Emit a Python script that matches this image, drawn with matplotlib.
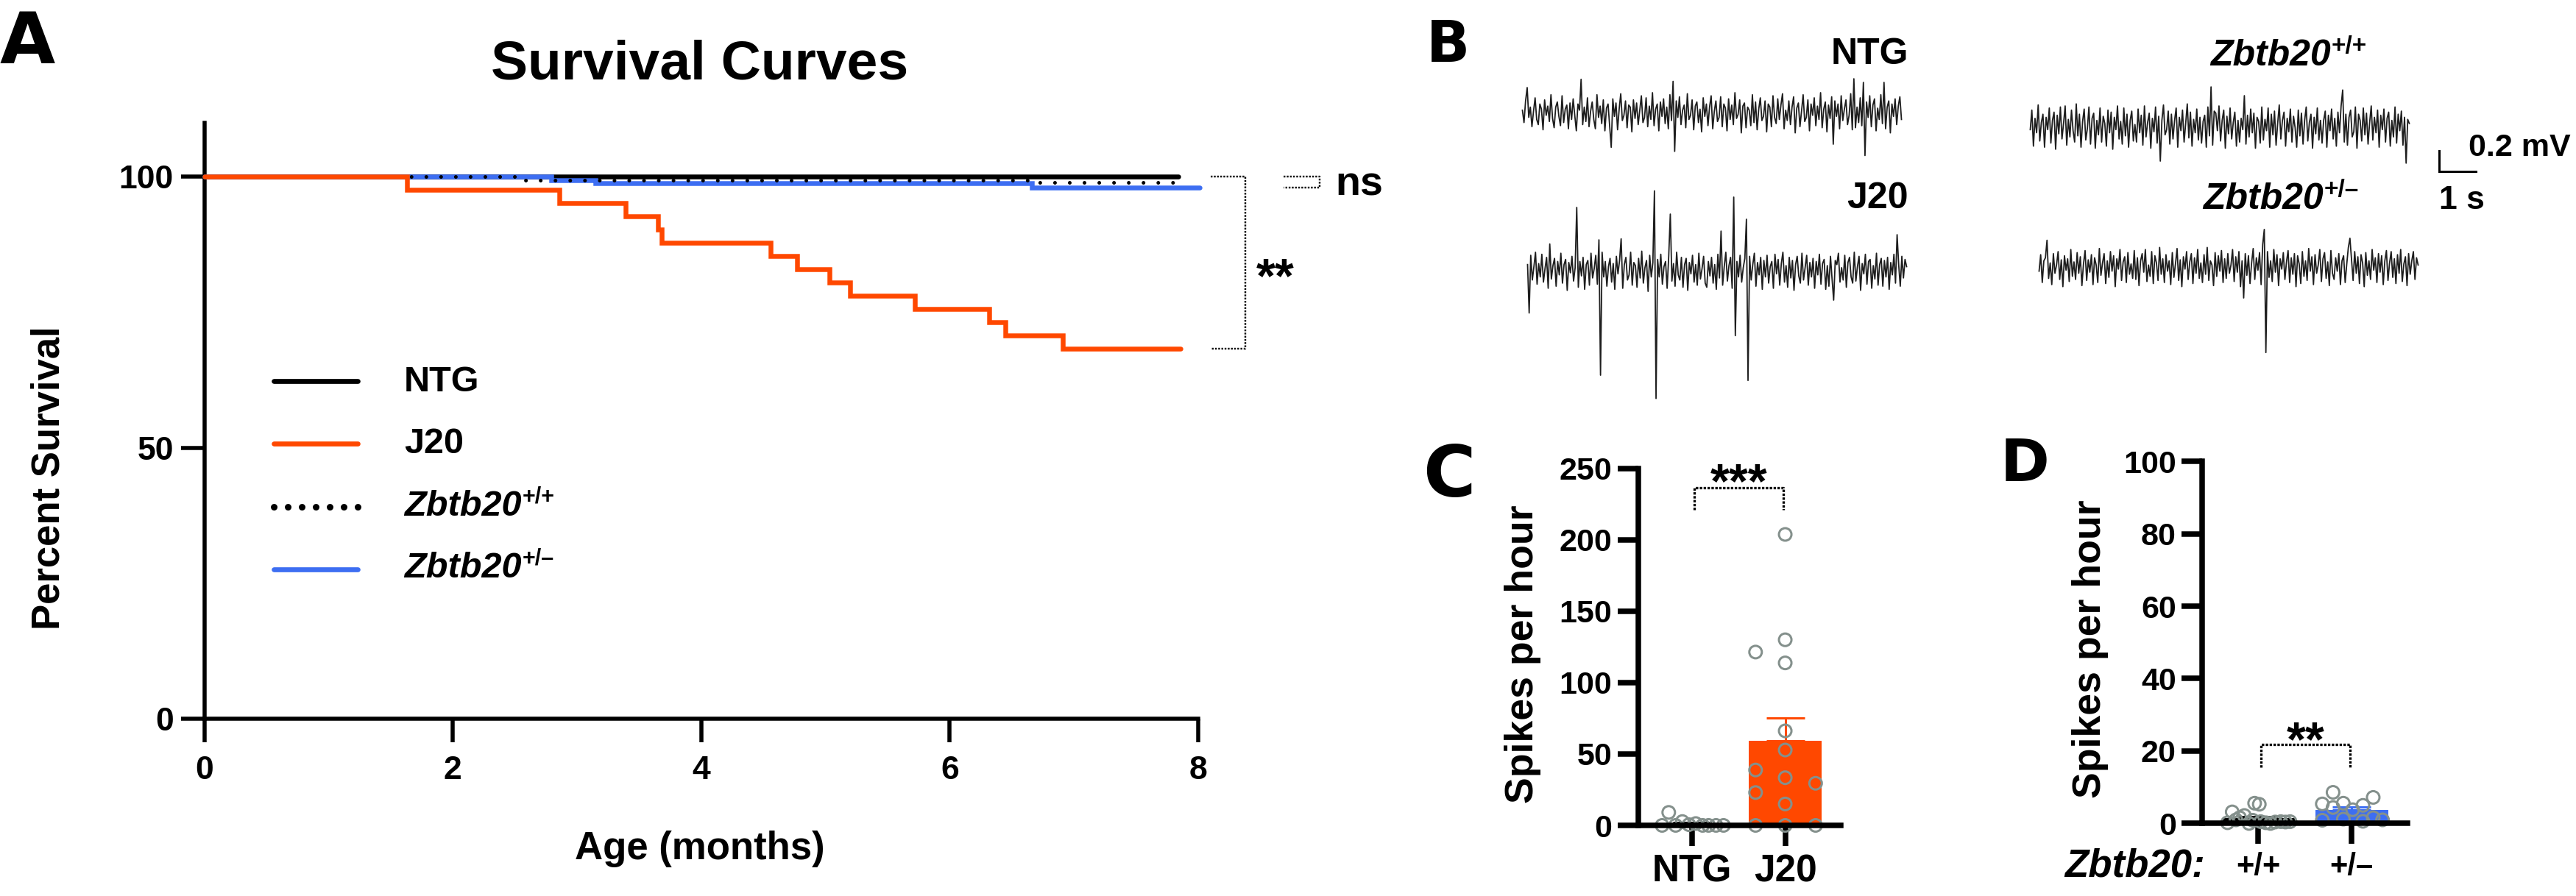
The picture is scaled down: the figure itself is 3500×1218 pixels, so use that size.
import matplotlib
matplotlib.use('Agg')
import matplotlib.pyplot as plt
import numpy as np

# ---------------- data ----------------
# A: survival curves (percent surviving), step times in months
ntg_t = [0, 7.84]
ntg_s = [100, 100]
j20_t = [0, 1.63, 2.86, 3.39, 3.65, 3.68, 4.56, 4.77, 5.03, 5.20, 5.72, 6.32, 6.45, 6.91, 7.86]
j20_s = [100, 97.6, 95.1, 92.7, 90.2, 87.8, 85.4, 82.9, 80.5, 78.0, 75.6, 73.2, 70.7, 68.3, 68.3]
wt_t = [0, 2.55, 6.70, 7.89]
wt_s = [100, 99.4, 98.9, 98.9]
het_t = [0, 2.79, 3.15, 6.66, 8.01]
het_s = [100, 99.3, 98.8, 98.0, 98.0]
legend_labels = ['NTG', 'J20', 'Zbtb20', 'Zbtb20']
legend_sup = [None, None, '+/+', '+/\u2013']

# B: example EEG traces (uV), ~10 s each
trace_ntg = [30, -90, 120, 250, -40, 60, -130, 20, 150, -60, -110, 90, 40, -160, 130, -20, 70, -80, 180, -50,
             -140, 60, 110, -30, -120, 170, -90, 40, 80, -150, 100, -60, 140, -20, -170, 90, 30, 330, -110, 60,
             -80, 150, -130, 20, 110, -60, -150, 180, -40, 70, -100, 130, -170, 50, 90, -120, -330, 140, -30, 100,
             -160, 40, 190, -70, -20, 120, -140, 80, 60, -180, 130, -50, 100, -110, 30, 170, -90, -40, 150, -130,
             70, -60, 200, -120, 40, 90, -170, 110, -30, 140, -100, 60, -150, 180, -70, 310, -370, 120, -40, 160,
             -110, 30, 80, -140, 190, -60, -20, 130, -160, 70, 110, -90, 40, -180, 150, -30, 90, -120, 60, 170,
             -150, 20, 120, -80, -40, 160, -130, 90, 50, -170, 140, -60, 80, -110, 200, -50, -10, 130, -190, 70,
             100, -140, 60, 30, -120, 180, -90, 110, -160, 40, 150, -70, -30, 120, -180, 90, 60, -130, 170, -40,
             -100, 140, -60, 80, 190, -150, 30, -70, 120, -110, 60, 160, -190, 50, 100, -130, 20, 180, -80, -40,
             130, -170, 90, -20, 150, -120, 70, -60, 200, -140, 40, 110, -180, 80, -50, 160, -300, 120, -30, 90,
             -150, 170, -70, 40, 130, -110, -20, 190, -160, 335, -140, 60, -90, 150, -120, 300, -410, 110, -40, 170,
             -130, 80, 140, -170, 50, -60, 180, -100, 300, -150, 60, 120, -190, 90, -30, 140, -110, 70, 160, -60]
trace_wt = [-30, 160, -190, 80, -60, 210, -140, 40, 120, -200, 90, -30, 180, -160, 60, 140, -220, 110, -70, 190,
            -120, 30, 200, -180, 70, -100, 160, -40, -150, 220, -90, 120, -200, 50, 170, -130, -20, 190, -170, 80,
            130, -210, 60, -80, 180, -150, 100, 30, -190, 160, -60, 140, -220, 90, -30, 200, -120, 50, -170, 180,
            -90, 120, -200, 60, 150, -140, 20, -150, 170, -60, 110, -180, 200, -100, 40, 130, -210, 80, -50, 190,
            -160, 100, -335, 60, 210, -80, -30, 150, -170, 120, -120, 60, 180, -200, 90, -40, 160, -150, 30, 220,
            -110, 140, -190, 70, -60, 170, -130, 90, -160, 50, 110, -200, 190, -90, 385, -180, 150, 130, -40, 200,
            -140, 60, 160, -210, 100, -70, 180, -120, 40, 140, -190, 60, -150, 80, -30, 300, -170, 110, -100, 170,
            -60, 130, -210, 90, 50, -160, 190, -130, 70, -40, 180, -200, 120, -80, 150, -180, 30, 210, -120, 60,
            140, -190, 80, -50, 170, -150, 100, -10, -200, 160, -90, 130, -170, 60, 190, -140, 40, 120, -210, 90,
            -70, 180, -130, 60, -160, 60, 150, -200, 110, -40, 170, -120, 80, -190, 140, -60, 200, 355, -150, 120,
            -180, 90, 160, -100, -50, 190, -210, 120, 60, -140, 180, -80, 130, -170, 40, 200, -130, 90, -60, 160,
            -200, 110, -30, 170, -150, 80, 140, -190, 60, -100, 190, -160, 120, -40, 150, -180, 90, -355, 70, 30]
trace_j20 = [60, -410, 150, -90, 40, 180, -130, 70, -60, 160, -110, 20, 130, -170, 260, -80, 50, 120, -150, 90,
             -40, 170, -120, 60, 110, -190, 80, -20, 140, -100, 30, 615, -160, 90, -50, 130, -180, 60, 100, -140,
             170, -70, 20, 150, -130, 300, -1014, 180, -60, 90, -150, 40, 120, -110, 70, -180, 140, -30, 100, 310,
             -170, 60, 130, -90, -40, 180, -140, 80, 50, -160, 120, -70, 190, -120, 30, 100, -200, 150, -60, 80,
             776, -1240, 110, -60, 160, -130, 40, 90, -170, 140, 550, -100, 70, -150, 180, -40, -90, 130, -160, 60,
             120, -190, 80, -30, 150, -110, 60, -140, 170, -80, 20, 140, -120, -160, 90, -50, 130, -120, 60, -180,
             160, -70, 385, -140, 40, 180, -100, 50, 130, -170, 715, -630, 90, -60, 150, -110, 30, 120, 500, -1065,
             140, -90, 60, 170, -150, 80, -40, 130, -180, 100, -60, 150, -120, 40, 90, -170, 160, -30, 110, -140,
             70, 180, -110, 50, -160, 130, -70, 100, -190, 60, 140, -50, -120, 170, -90, 30, 150, -140, 80, -60,
             120, -170, 90, -40, 160, -130, 70, 110, -180, 50, -150, 140, -80, -285, 100, 60, 170, -110, 30, -90,
             150, -160, 80, 130, -60, -120, 180, -100, 40, 140, -190, 70, -30, 160, -130, 90, 110, -170, 50, -80,
             170, -140, 60, 120, -150, 100, -60, 130, -180, 80, -40, 160, -120, 350, 60, -150, 140, -70, 110, 40]
trace_het = [-40, 120, -150, 60, 90, 260, -110, 40, -170, 130, -60, 20, 150, -120, 70, -190, 110, -30, 80, -140,
             170, -90, 50, -120, 140, -60, 100, -180, 30, 160, -130, 70, -50, 120, -170, 90, 20, -150, 180, -80,
             40, 130, -160, 60, -100, 150, -40, 110, -190, 80, -20, 170, -130, 50, 100, -150, 140, -70, 30, -110,
             160, -120, 90, -180, 60, 130, -50, 170, -140, 20, -90, 150, -160, 110, 40, -130, 190, -70, 80, -150,
             120, -40, 60, -170, 140, -100, 30, 180, -130, 70, -190, 100, -20, 150, -120, 50, 130, -160, 90, -60,
             170, -110, 40, -150, 120, -70, 190, -130, 60, 20, -180, 140, -90, 110, -40, 160, -150, 80, -110, 130,
             -60, 20, 170, -140, 100, -50, 150, -190, 60, -300, 130, -80, 110, -160, 40, 180, -120, 90, -30, 140,
             -170, 220, 365, -830, 150, -100, 60, -140, 170, -50, 120, -180, 80, -20, 140, -120, 50, 160, -150, 90,
             -70, 130, -190, 110, 30, -160, 150, -90, 60, -130, 180, -40, 100, -170, 120, -60, 20, 170, -140, 80,
             140, -110, 50, -180, 160, -60, -120, 90, -40, 130, -170, 60, 110, -150, 30, 190, 280, 70, -130, 150,
             -60, 100, -160, 120, 40, -190, 140, -80, 60, -120, 170, -30, 90, -150, 130, -50, 110, -170, 60, 160,
             -130, 40, 150, -100, 80, -160, 120, -60, 170, -140, 30, 100, -180, 130, -70, 60, 150, -120, 90, 20]
trace_len_s = 10.3
scale_t = 1.0     # s
scale_v = 200     # uV

# C: spikes per hour
c_labels = ['NTG', 'J20']
ntg_spikes = [9.1, 0, 0, 2.7, 0.5, 1.3, 0, 0, 0, 0]
j20_spikes = [203.8, 121.4, 130.0, 113.8, 66.2, 52.8, 38.8, 33.4, 29.5, 23.0, 15.0, 0, 0, 0]

# D: spikes per hour by Zbtb20 genotype
d_labels = ['+/+', '+/\u2013']
wt_spikes = [0.2, 3.2, 1.6, 2.2, 0.0, 5.6, 5.3, 0.9, 0.5, 0.2, 0.0, 0.4, 0.5, 0.4, 0.5, 1.0]
het_spikes = [0.9, 5.4, 8.6, 4.4, 5.6, 1.2, 3.8, 5.0, 0.6, 7.2, 1.6, 1.0]

# ---------------- layout ----------------
# horizontal scatter offsets (category units)
ntg_dx = [-0.246, -0.317, -0.172, -0.10, -0.03, 0.043, 0.117, 0.18, 0.26, 0.34]
j20_dx = [0, -0.317, 0, 0, 0, 0, -0.317, 0, 0.325, -0.317, 0, -0.317, 0, 0.325]
wt_dx = [-0.33, -0.28, -0.20, -0.15, -0.10, -0.04, 0.01, -0.06, 0.025, 0.08,
         0.13, 0.18, 0.24, 0.29, 0.34, -0.24]
het_dx = [-0.315, -0.315, -0.2, -0.2, -0.09, -0.09, 0.01, 0.12, 0.12, 0.23, 0.23, 0.33]

ORANGE = '#ff4800'
BLUE = '#3d6ef2'
GRAY = '#84908c'
PT = 0.72  # points per pixel at dpi 100

plt.rcParams['font.family'] = ['Liberation Sans', 'DejaVu Sans']
plt.rcParams['font.weight'] = 'bold'

W, H = 3500, 1218
fig = plt.figure(figsize=(W / 100, H / 100), dpi=100)


def px_axes(x0, y0, x1, y1):
    return fig.add_axes([x0 / W, 1 - y1 / H, (x1 - x0) / W, (y1 - y0) / H])


# ---------- A ----------
ax = px_axes(277.6, 166.5, 1628, 977)
lw = 6.5 * PT
common = dict(drawstyle='steps-post', solid_capstyle='round', solid_joinstyle='miter', clip_on=False)
ax.plot(ntg_t, ntg_s, color='black', lw=lw, zorder=3, **common)
ax.plot(het_t, het_s, color=BLUE, lw=lw, zorder=4, **common)
ax.plot(wt_t, wt_s, color='black', lw=5 * PT, linestyle=(0, (0.01, 4)),
        dash_capstyle='round', drawstyle='steps-post', clip_on=False, zorder=5)
ax.plot(j20_t, j20_s, color=ORANGE, lw=lw, zorder=6, **common)
ax.set_xlim(0, 8)
ax.set_ylim(0, 110)
ax.set_xticks([0, 2, 4, 6, 8])
ax.set_yticks([0, 50, 100])
for s in ['top', 'right']:
    ax.spines[s].set_visible(False)
for s in ['left', 'bottom']:
    ax.spines[s].set_linewidth(5.5 * PT)
ax.tick_params(axis='both', length=32 * PT, width=5.5 * PT, labelsize=32)
ax.tick_params(axis='y', pad=7)
ax.tick_params(axis='x', pad=13)

dots = dict(color='black', lw=2.4 * PT, linestyle=(0, (1, 0.8)), clip_on=False)
ax.plot([8.10, 8.38, 8.38, 8.10], [ntg_s[-1], ntg_s[-1], j20_s[-1], j20_s[-1]], **dots)
ax.plot([8.69, 8.98, 8.98, 8.69], [ntg_s[-1], ntg_s[-1], het_s[-1], het_s[-1]], **dots)

# ---------- B ----------
axb = px_axes(1950, 0, 3500, 560)
axb.set_xlim(0, 31)
axb.set_ylim(-4000, 0)
axb.axis('off')
traces = [(trace_ntg, 2.37, -1100), (trace_wt, 16.17, -1229),
          (trace_j20, 2.51, -2629), (trace_het, 16.41, -2593)]
for vals, t0, y0 in traces:
    tt = np.linspace(0, trace_len_s, len(vals))
    axb.plot(t0 + tt, y0 + np.array(vals), color='#1e1e1e', lw=1.3)
sb_x, sb_y = 27.28, -1464
axb.plot([sb_x, sb_x, sb_x + scale_t], [sb_y, sb_y - scale_v, sb_y - scale_v],
         color='black', lw=3 * PT, solid_joinstyle='miter')


# ---------- C / D ----------
def bar_panel(box, groups, offsets, colors, ylim, yticks, xlim):
    a = px_axes(*box)
    means = [np.mean(g) for g in groups]
    sems = [np.std(g, ddof=1) / np.sqrt(len(g)) for g in groups]
    a.bar([0, 1], means, width=0.78, color=colors, zorder=2)
    for i in range(2):
        a.errorbar(i, means[i], yerr=[[0], [sems[i]]], color=colors[i], lw=3 * PT,
                   capsize=18.7, capthick=3 * PT, zorder=2.5)
        a.scatter(i + np.array(offsets[i]), groups[i], s=150, facecolors='none',
                  edgecolors=GRAY, linewidths=3 * PT, zorder=3, clip_on=False)
    a.set_xlim(*xlim)
    a.set_ylim(*ylim)
    a.set_yticks(yticks)
    a.set_xticks([0, 1])
    for s in ['top', 'right']:
        a.spines[s].set_visible(False)
    for s in ['left', 'bottom']:
        a.spines[s].set_linewidth(7.5 * PT)
        a.spines[s].set_zorder(4)
    a.tick_params(axis='both', length=28 * PT, width=7.5 * PT)
    a.tick_params(axis='y', labelsize=31, pad=5.4)
    a.tick_params(axis='x', pad=7.5)
    return a


axc = bar_panel((2225.5, 636.8, 2501, 1122), [ntg_spikes, j20_spikes], [ntg_dx, j20_dx],
                ['black', ORANGE], (0, 250), range(0, 251, 50), (-0.575, 1.594))
axc.set_xticklabels(c_labels, fontsize=37)
axc.plot([0.03, 0.03, 0.98, 0.98], [221, 236.7, 236.7, 221], color='black',
         lw=3.3 * PT, linestyle=(0, (1, 0.6)), clip_on=False)

axd = bar_panel((2992.3, 627.1, 3271.4, 1119.4), [wt_spikes, het_spikes], [wt_dx, het_dx],
                ['black', BLUE], (0, 100), range(0, 101, 20), (-0.6, 1.6))
axd.set_xticklabels(d_labels, fontsize=30)
axd.plot([0.03, 0.03, 0.98, 0.98], [15.6, 21.8, 21.8, 15.6], color='black',
         lw=3.3 * PT, linestyle=(0, (1, 0.6)), clip_on=False)

# ---------- overlay for free text ----------
ov = fig.add_axes([0, 0, 1, 1])
ov.set_xlim(0, W)
ov.set_ylim(H, 0)
ov.axis('off')


def txt(x, y, s, size, **kw):
    kw.setdefault('va', 'baseline')
    return ov.text(x, y, s, fontsize=size, fontweight='bold', **kw)


def sup(t, s, size, up=3.6):
    ov.annotate(s, xy=(1, 1), xycoords=t, xytext=(1, up), textcoords='offset points',
                ha='left', va='top', fontsize=size, fontweight='bold')


letter = dict(family='DejaVu Sans')
txt(0, 86, 'A', 70, **letter)
txt(1938, 84, 'B', 56, **letter)
txt(1933, 675, 'C', 70, **letter)
txt(2718, 654, 'D', 58, **letter)

txt(951, 107, 'Survival Curves', 54, ha='center')
txt(951, 1168, 'Age (months)', 38, ha='center')
txt(67, 650, 'Percent Survival', 38, ha='center', va='center', rotation=90)
txt(1707, 397, '**', 48)
txt(1814, 265, 'ns', 40)

# legend of A
leg_y = [518, 603, 689, 774]
leg_base = [531.7, 616, 700.7, 785]
leg_styles = [dict(color='black'), dict(color=ORANGE), None, dict(color=BLUE)]
for i in range(4):
    if leg_styles[i] is None:
        ov.plot([372, 486], [leg_y[i], leg_y[i]], color='black', lw=9 * PT,
                linestyle=(0, (0.01, 2.1)), dash_capstyle='round')
    else:
        ov.plot([372, 486], [leg_y[i], leg_y[i]], lw=6.7 * PT, solid_capstyle='round',
                **leg_styles[i])
    t = txt(549, leg_base[i], legend_labels[i], 35,
            style='italic' if legend_sup[i] else 'normal')
    if legend_sup[i]:
        sup(t, legend_sup[i], 22)

# B labels
txt(2593, 87, 'NTG', 36, ha='right')
txt(2593, 283.4, 'J20', 36, ha='right')
t = txt(3003, 89.4, 'Zbtb20', 36, style='italic')
sup(t, '+/+', 24)
t = txt(2993, 284, 'Zbtb20', 36, style='italic')
sup(t, '+/\u2013', 24)
txt(3354, 212, '0.2 mV', 31)
txt(3314, 284, '1 s', 32)

# C / D labels
txt(2068.5, 889, 'Spikes per hour', 38.6, ha='center', va='center', rotation=90)
txt(2840, 882, 'Spikes per hour', 38.6, ha='center', va='center', rotation=90)
txt(2363, 676, '***', 48, ha='center')
txt(3132.7, 1027, '**', 48, ha='center')
txt(2996, 1191.6, 'Zbtb20:', 38, ha='right', style='italic')

fig.savefig('out.png', dpi=100)
